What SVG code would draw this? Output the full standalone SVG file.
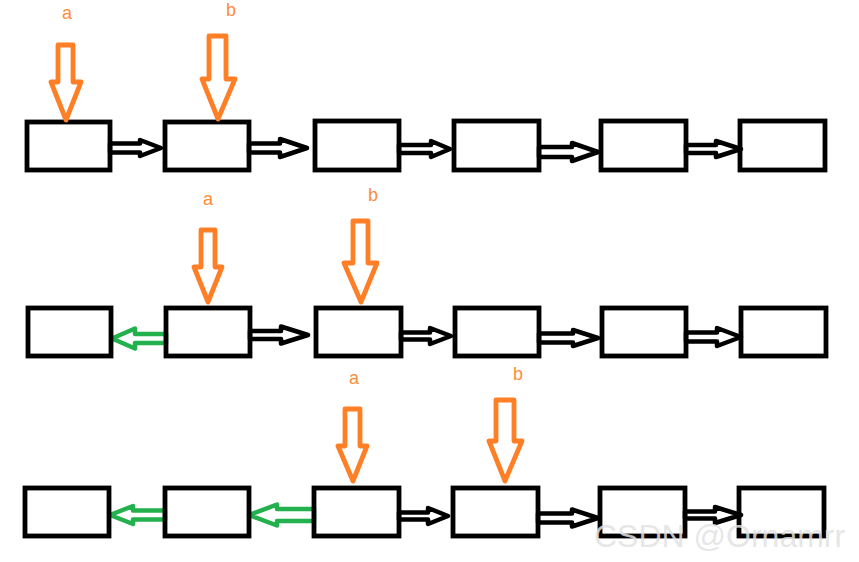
<svg xmlns="http://www.w3.org/2000/svg" width="859" height="562" viewBox="0 0 859 562">
<style>
.box{fill:none;stroke:#000;stroke-width:4.8}
.blk{fill:#fff;stroke:#000;stroke-width:4.5;stroke-linejoin:round}
.grn{fill:#fff;stroke:#22b14c;stroke-width:4.5;stroke-linejoin:round}
.org{fill:#fff;stroke:#ff7f27;stroke-width:4.8;stroke-linejoin:round}
.lbl{font-family:"Liberation Sans",Arial,sans-serif;font-size:18px;fill:#ff8c3a;text-anchor:middle}
.wm{font-family:"Liberation Sans",Arial,sans-serif;font-size:32px;fill:#e2e2e2;fill-opacity:0.85}
</style>
<rect width="859" height="562" fill="#fff"/>
<g id="connectors">
<!-- row 1 -->
<path class="blk" d="M110,143.5 L140,143.5 L140,140 L161,148 L140,156 L140,152.5 L110,152.5 Z"/>
<path class="blk" d="M249,143.5 L280,143.5 L280,139 L307,148 L280,157 L280,152.5 L249,152.5 Z"/>
<path class="blk" d="M399,145 L431,145 L431,141 L450,149 L431,157 L431,153 L399,153 Z"/>
<path class="blk" d="M539,147 L572,147 L572,143 L598,152 L572,161 L572,157 L539,157 Z"/>
<path class="blk" d="M686,145 L716,145 L716,141 L741,149 L716,157 L716,153 L686,153 Z"/>
<!-- row 2 -->
<path class="grn" d="M166,334 L135,334 L135,328.5 L112,338.5 L135,348.5 L135,343 L166,343 Z"/>
<path class="blk" d="M250,331 L281,331 L281,326.5 L308,335 L281,343.5 L281,339 L250,339 Z"/>
<path class="blk" d="M401,332.5 L430,332.5 L430,328 L451,336 L430,344 L430,339.5 L401,339.5 Z"/>
<path class="blk" d="M539,333.5 L573,333.5 L573,330 L598,338 L573,346 L573,342.5 L539,342.5 Z"/>
<path class="blk" d="M686,332.5 L717,332.5 L717,328 L741,337 L717,346 L717,341.5 L686,341.5 Z"/>
<!-- row 3 -->
<path class="grn" d="M165,510.5 L133,510.5 L133,506 L110,515 L133,524 L133,519.5 L165,519.5 Z"/>
<path class="grn" d="M314,509 L277,509 L277,504.5 L249,515 L277,525.5 L277,521 L314,521 Z"/>
<path class="blk" d="M399,512.5 L428,512.5 L428,508 L448,516 L428,524 L428,519.5 L399,519.5 Z"/>
<path class="blk" d="M538,513.5 L572,513.5 L572,509.5 L598,518 L572,526.5 L572,522.5 L538,522.5 Z"/>
<path class="blk" d="M685,511.5 L715,511.5 L715,507 L741,515 L715,523 L715,518.5 L685,518.5 Z"/>
</g>
<g id="row1">
<g id="r1n1"><rect class="box" x="27" y="122" width="83" height="48"/></g>
<g id="r1n2"><rect class="box" x="165" y="122" width="84" height="48"/></g>
<g id="r1n3"><rect class="box" x="315" y="121" width="84" height="49"/></g>
<g id="r1n4"><rect class="box" x="454" y="121" width="85" height="49"/></g>
<g id="r1n5"><rect class="box" x="601" y="121" width="85" height="49"/></g>
<g id="r1n6"><rect class="box" x="740" y="121" width="85" height="49"/></g>
</g>
<g id="row2">
<g id="r2n1"><rect class="box" x="28" y="308" width="83" height="48"/></g>
<g id="r2n2"><rect class="box" x="166" y="308" width="84" height="48"/></g>
<g id="r2n3"><rect class="box" x="316" y="308" width="85" height="48"/></g>
<g id="r2n4"><rect class="box" x="455" y="308" width="84" height="48"/></g>
<g id="r2n5"><rect class="box" x="602" y="308" width="84" height="48"/></g>
<g id="r2n6"><rect class="box" x="741" y="308" width="85" height="48"/></g>
</g>
<g id="row3">
<g id="r3n1"><rect class="box" x="25" y="488" width="84" height="48"/></g>
<g id="r3n2"><rect class="box" x="165" y="488" width="84" height="48"/></g>
<g id="r3n3"><rect class="box" x="314" y="488" width="85" height="48"/></g>
<g id="r3n4"><rect class="box" x="453" y="488" width="85" height="48"/></g>
<g id="r3n5"><rect class="box" x="600" y="488" width="85" height="48"/></g>
<g id="r3n6"><rect class="box" x="739" y="488" width="85" height="48"/></g>
</g>
<g id="pointers">
<g id="r1a"><path class="org" d="M58,45 L73,45 L73,82 L81,82 L66,120 L51,82 L58,82 Z"/><text class="lbl" x="67" y="19">a</text></g>
<g id="r1b"><path class="org" d="M209,36 L226,36 L226,79 L235,79 L218,119 L202,79 L209,79 Z"/><text class="lbl" x="231" y="16">b</text></g>
<g id="r2a"><path class="org" d="M201,230 L215,230 L215,267 L222,267 L208,302 L194,267 L201,267 Z"/><text class="lbl" x="208" y="205">a</text></g>
<g id="r2b"><path class="org" d="M353,221 L368,221 L368,263 L377,263 L361,302 L344,263 L353,263 Z"/><text class="lbl" x="373" y="201">b</text></g>
<g id="r3a"><path class="org" d="M345,409 L360,409 L360,446 L367,446 L353,481 L338,446 L345,446 Z"/><text class="lbl" x="354" y="384">a</text></g>
<g id="r3b"><path class="org" d="M496,400 L514,400 L514,441 L522,441 L505,481 L489,441 L496,441 Z"/><text class="lbl" x="518" y="380">b</text></g>
</g>
<text class="wm" x="594" y="547">CSDN @Ornamrr</text>
</svg>
